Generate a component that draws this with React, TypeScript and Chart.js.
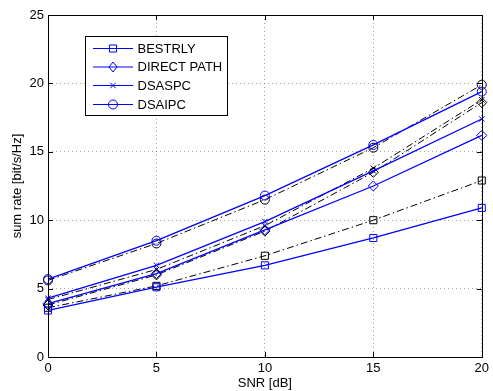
import React, { useEffect, useRef } from "react";
import { Chart, registerables } from "chart.js";

Chart.register(...registerables);

const snr = [0, 5, 10, 15, 20];
const bestrlyBlue = [3.4, 5.1, 6.7, 8.7, 10.9];
const bestrlyBlack = [3.6, 5.2, 7.4, 10.0, 12.9];
const directBlue = [3.9, 6.1, 9.3, 12.5, 16.2];
const directBlack = [3.8, 6.0, 9.2, 13.5, 18.6];
const dsaspcBlue = [4.3, 6.7, 9.9, 13.6, 17.4];
const dsaspcBlack = [4.2, 6.4, 9.6, 13.8, 18.8];
const dsaipcBlue = [5.7, 8.5, 11.8, 15.5, 19.4];
const dsaipcBlack = [5.6, 8.3, 11.5, 15.3, 19.9];

const seriesNames = ["BESTRLY", "DIRECT PATH", "DSASPC", "DSAIPC"];
const markers = ["rect", "rectRot", "crossRot", "circle"];
const blueSeries = [bestrlyBlue, directBlue, dsaspcBlue, dsaipcBlue];
const blackSeries = [bestrlyBlack, directBlack, dsaspcBlack, dsaipcBlack];

const xTicks = [0, 5, 10, 15, 20];
const yTicks = [0, 5, 10, 15, 20, 25];

const FONT = "'Liberation Sans', Arial, Helvetica, sans-serif";
const BLUE = "#0000ff";

function markerRadius(m: string) {
  if (m === "rect") return 5;
  if (m === "rectRot") return 5;
  if (m === "crossRot") return 3.8;
  return 4.5;
}

function drawMarker(ctx: CanvasRenderingContext2D, m: string, x: number, y: number) {
  const r = markerRadius(m);
  ctx.beginPath();
  if (m === "rect") {
    const s = r * Math.SQRT1_2;
    ctx.rect(x - s, y - s, 2 * s, 2 * s);
  } else if (m === "rectRot") {
    ctx.moveTo(x, y - r);
    ctx.lineTo(x + r * 0.8, y);
    ctx.lineTo(x, y + r);
    ctx.lineTo(x - r * 0.8, y);
    ctx.closePath();
  } else if (m === "crossRot") {
    const s = r * Math.SQRT1_2;
    ctx.moveTo(x - s, y - s);
    ctx.lineTo(x + s, y + s);
    ctx.moveTo(x + s, y - s);
    ctx.lineTo(x - s, y + s);
  } else {
    ctx.arc(x, y, r, 0, Math.PI * 2);
  }
  ctx.stroke();
}

const framePlugin = {
  id: "frameAndLegend",
  afterDraw(chart: any) {
    const ctx: CanvasRenderingContext2D = chart.ctx;
    const { left, right, top, bottom } = chart.chartArea;
    const xs = chart.scales.x;
    const ys = chart.scales.y;
    ctx.save();
    ctx.strokeStyle = "#000";
    ctx.lineWidth = 1;
    ctx.setLineDash([]);
    ctx.strokeRect(Math.round(left) + 0.5, Math.round(top) + 0.5, Math.round(right - left), Math.round(bottom - top));
    const tl = 5;
    ctx.beginPath();
    xTicks.forEach((v) => {
      const px = Math.round(xs.getPixelForValue(v)) + 0.5;
      ctx.moveTo(px, bottom);
      ctx.lineTo(px, bottom - tl);
      ctx.moveTo(px, top);
      ctx.lineTo(px, top + tl);
    });
    yTicks.forEach((v) => {
      const py = Math.round(ys.getPixelForValue(v)) + 0.5;
      ctx.moveTo(left, py);
      ctx.lineTo(left + tl, py);
      ctx.moveTo(right, py);
      ctx.lineTo(right - tl, py);
    });
    ctx.stroke();

    // legend
    const lx = 85.5, ly = 36.5, lw = 142, lh = 79;
    ctx.fillStyle = "#fff";
    ctx.fillRect(lx, ly, lw, lh);
    ctx.strokeStyle = "#000";
    ctx.strokeRect(lx, ly, lw, lh);
    const rows = [48.5, 67, 85.5, 104.5];
    ctx.font = `13px ${FONT}`;
    ctx.textBaseline = "middle";
    ctx.textAlign = "left";
    seriesNames.forEach((name, i) => {
      const yy = rows[i];
      ctx.strokeStyle = BLUE;
      ctx.lineWidth = 1.2;
      ctx.beginPath();
      ctx.moveTo(93, yy);
      ctx.lineTo(133, yy);
      ctx.stroke();
      ctx.lineWidth = 1;
      drawMarker(ctx, markers[i], 113, yy);
      ctx.fillStyle = "#000";
      ctx.fillText(name, 137.5, yy + 0.5);
    });
    ctx.restore();
  },
};

export default function App() {
  const ref = useRef<HTMLCanvasElement | null>(null);
  useEffect(() => {
    document.body.style.margin = "0";
    const datasets: any[] = [];
    blueSeries.forEach((s, i) => {
      datasets.push({
        label: seriesNames[i],
        data: snr.map((x, j) => ({ x, y: s[j] })),
        borderColor: BLUE,
        backgroundColor: "rgba(0,0,0,0)",
        borderWidth: 1.3,
        pointStyle: markers[i],
        pointRadius: markerRadius(markers[i]),
        pointBorderColor: BLUE,
        pointBorderWidth: 1,
        pointBackgroundColor: "rgba(0,0,0,0)",
        clip: false,
        tension: 0,
      });
    });
    blackSeries.forEach((s, i) => {
      datasets.push({
        label: seriesNames[i] + " (ref)",
        data: snr.map((x, j) => ({ x, y: s[j] })),
        borderColor: "#000",
        backgroundColor: "rgba(0,0,0,0)",
        borderWidth: 1,
        borderDash: [7, 3, 1.5, 3],
        pointStyle: markers[i],
        pointRadius: markerRadius(markers[i]),
        pointBorderColor: "#000",
        pointBorderWidth: 1,
        pointBackgroundColor: "rgba(0,0,0,0)",
        clip: false,
        tension: 0,
      });
    });
    const chart = new Chart(ref.current as HTMLCanvasElement, {
      type: "line",
      data: { datasets },
      options: {
        animation: false,
        responsive: false,
        layout: { padding: { left: 0, right: 10, top: 15, bottom: 0 } },
        plugins: { legend: { display: false }, tooltip: { enabled: false } },
        scales: {
          x: {
            type: "linear",
            min: 0,
            max: 20,
            afterBuildTicks: (scale: any) => {
              scale.ticks = xTicks.map((v) => ({ value: v }));
            },
            afterFit: (scale: any) => {
              scale.height = 34;
            },
            ticks: { color: "#000", font: { family: FONT, size: 13 }, padding: 4, maxRotation: 0 },
            grid: { color: "rgba(0,0,0,0.35)", drawTicks: false, lineWidth: 1 },
            border: { display: false, dash: [1, 3] },
            title: {
              display: true,
              text: "SNR [dB]",
              color: "#000",
              font: { family: FONT, size: 13 },
              padding: { top: 2, bottom: 0 },
            },
          },
          y: {
            type: "linear",
            min: 0,
            max: 25,
            afterBuildTicks: (scale: any) => {
              scale.ticks = yTicks.map((v) => ({ value: v }));
            },
            afterFit: (scale: any) => {
              scale.width = 48;
            },
            ticks: { color: "#000", font: { family: FONT, size: 13 }, padding: 4 },
            grid: { color: "rgba(0,0,0,0.35)", drawTicks: false, lineWidth: 1 },
            border: { display: false, dash: [1, 3] },
            title: {
              display: true,
              text: "sum rate [bit/s/Hz]",
              color: "#000",
              font: { family: FONT, size: 13 },
              padding: { top: 10, bottom: 0 },
            },
          },
        },
      } as any,
      plugins: [framePlugin],
    });
    return () => chart.destroy();
  }, []);
  return (
    <div style={{ position: "absolute", left: 0, top: 0, width: 493, height: 391 }}>
      <canvas ref={ref} width={493} height={391} />
    </div>
  );
}
